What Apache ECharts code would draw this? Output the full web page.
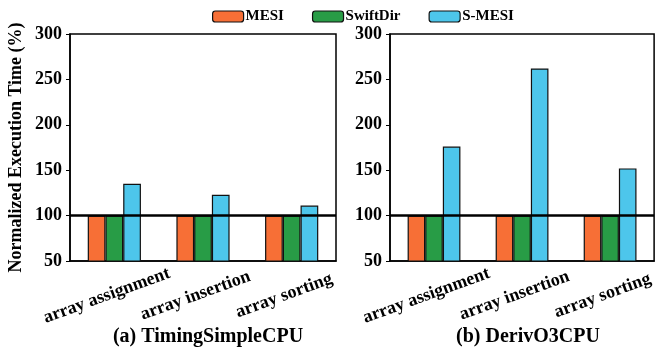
<!DOCTYPE html>
<html><head><meta charset="utf-8">
<script src="https://cdn.jsdelivr.net/npm/echarts@6/dist/echarts.min.js"></script>
<style>html,body{margin:0;padding:0;background:#fff}#c{width:656px;height:350px}</style>
</head><body><div id="c"></div>
<script>
const categories = ['array assignment', 'array insertion', 'array sorting'];
const seriesNames = ['MESI', 'SwiftDir', 'S-MESI'];
const timingMESI = [100, 100, 100];
const timingSwiftDir = [100, 100, 100];
const timingSMESI = [135, 123, 111];
const o3MESI = [100, 100, 100];
const o3SwiftDir = [100, 100, 100];
const o3SMESI = [176, 262, 152];
const panelTitles = ['(a) TimingSimpleCPU', '(b) DerivO3CPU'];
const yTicks = {min: 50, max: 300, interval: 50};
const baseline = 100;

const colors = ['#F76F36', '#289C46', '#4DC6EB'];
const FF = 'Liberation Serif';
const chart = echarts.init(document.getElementById('c'));

function xAxis(i) {
  return {
    type: 'category', gridIndex: i, data: categories,
    axisLine: {lineStyle: {color: '#000', width: 1.5}},
    axisTick: {show: false},
    axisLabel: {rotate: 20, align: 'center', verticalAlign: 'middle', margin: 32,
      padding: [0, 16, 0, 0],
      color: '#000', fontFamily: FF, fontWeight: 'bold', fontSize: 18, interval: 0}
  };
}
function yAxis(i) {
  return {
    type: 'value', gridIndex: i, min: yTicks.min, max: yTicks.max, interval: yTicks.interval,
    name: i === 0 ? 'Normalized Execution Time (%)' : '',
    nameLocation: 'middle', nameGap: 45, nameRotate: 90,
    nameTextStyle: {color: '#000', fontFamily: FF, fontWeight: 'bold', fontSize: 18},
    axisLine: {show: true, lineStyle: {color: '#000', width: 1.5}},
    axisTick: {show: true, length: 4, lineStyle: {color: '#000', width: 1}},
    splitLine: {show: false},
    axisLabel: {color: '#000', fontFamily: FF, fontWeight: 'bold', fontSize: 18, margin: 8}
  };
}
const data = [[timingMESI, timingSwiftDir, timingSMESI], [o3MESI, o3SwiftDir, o3SMESI]];
const series = [];
for (let g = 0; g < 2; g++) {
  for (let s = 0; s < 3; s++) {
    series.push({
      type: 'bar', name: seriesNames[s], xAxisIndex: g, yAxisIndex: g, data: data[g][s],
      barGap: '0%', barCategoryGap: '40%', z: 3,
      itemStyle: {color: colors[s], borderColor: '#111', borderWidth: 1.2}
    });
  }
  series.push({
    type: 'line', xAxisIndex: g, yAxisIndex: g, data: [], z: 1, silent: true,
    markLine: {silent: true, symbol: 'none', label: {show: false},
      lineStyle: {color: '#000', width: 2.5, type: 'solid'},
      data: [{yAxis: baseline}]}
  });
}
chart.setOption({
  animation: false,
  backgroundColor: '#fff',
  title: [
    {text: panelTitles[0], left: 203, top: 322, textAlign: 'center',
      textStyle: {color: '#000', fontFamily: FF, fontWeight: 'bold', fontSize: 20}},
    {text: panelTitles[1], left: 523, top: 322, textAlign: 'center',
      textStyle: {color: '#000', fontFamily: FF, fontWeight: 'bold', fontSize: 20}}
  ],
  legend: {
    data: seriesNames, top: 4, left: 207, itemWidth: 31, itemHeight: 11, itemGap: 28,
    textStyle: {color: '#000', fontFamily: FF, fontWeight: 'bold', fontSize: 15, padding: [0, 0, 0, -3]},
    itemStyle: {borderColor: '#111', borderWidth: 1.2}
  },
  grid: [
    {left: 70, right: 320, top: 34, bottom: 89, show: true, borderColor: '#000', borderWidth: 1.5, containLabel: false},
    {left: 390, right: 1, top: 34, bottom: 89, show: true, borderColor: '#000', borderWidth: 1.5, containLabel: false}
  ],
  xAxis: [xAxis(0), xAxis(1)],
  yAxis: [yAxis(0), yAxis(1)],
  series: series
});
</script></body></html>
